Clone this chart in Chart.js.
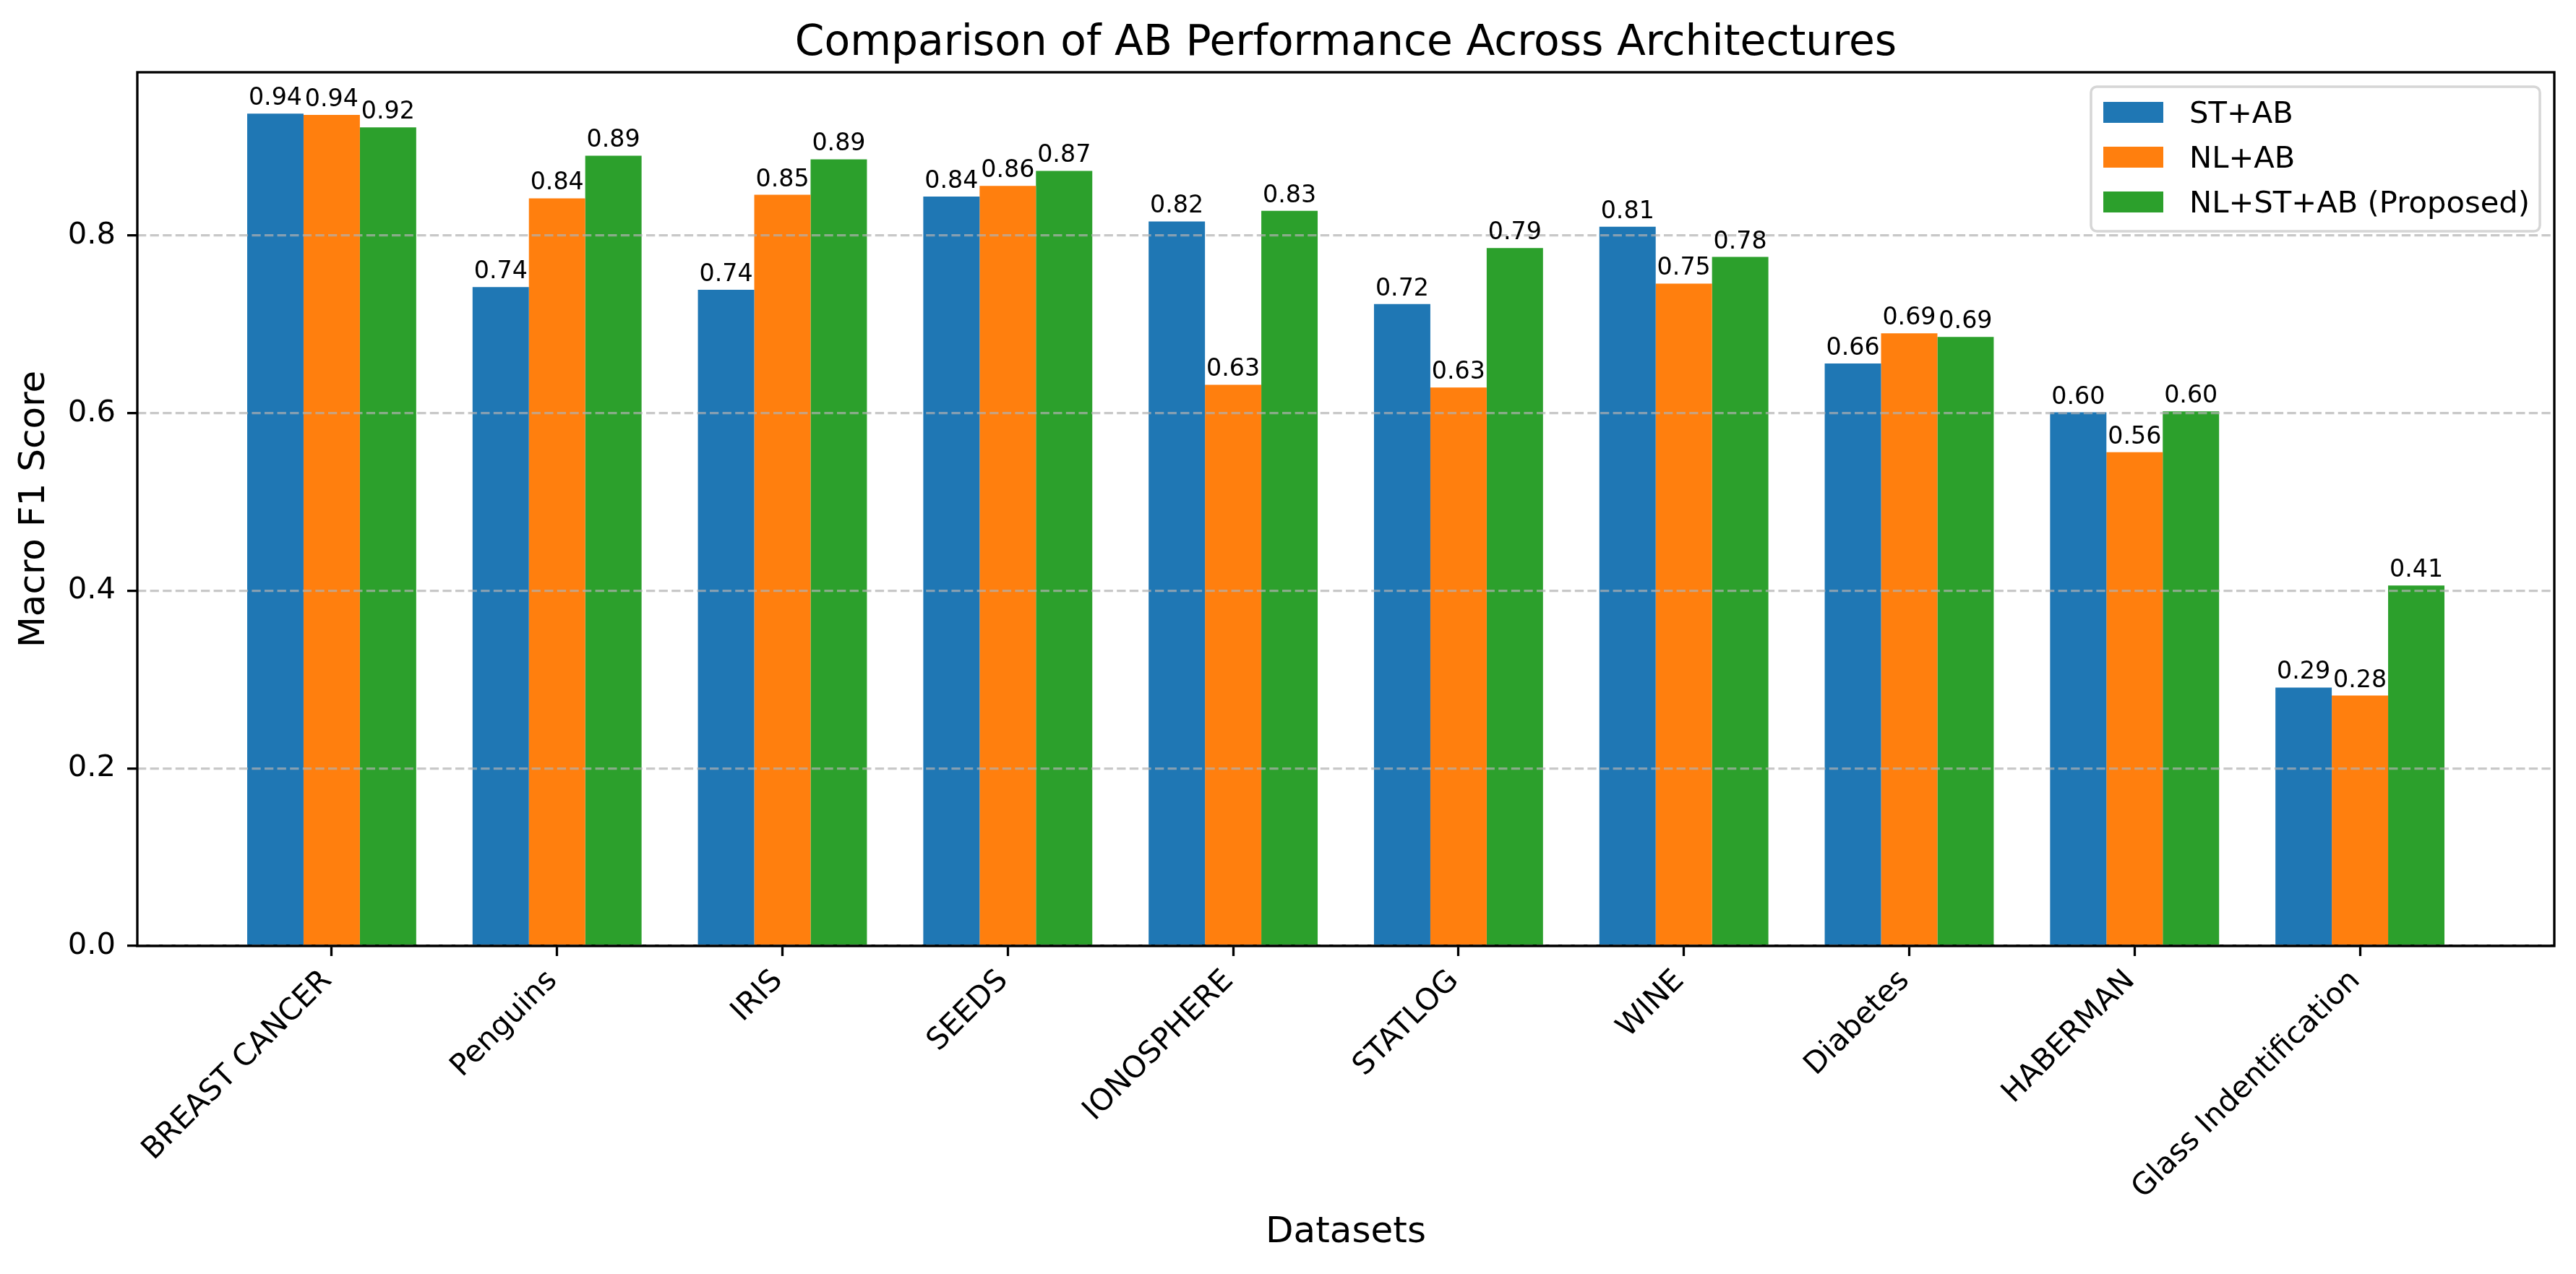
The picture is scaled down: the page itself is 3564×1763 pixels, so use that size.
<!DOCTYPE html>
<html>
<head>
<meta charset="utf-8">
<script src="https://cdn.jsdelivr.net/npm/chart.js@4/dist/chart.umd.min.js"></script>
<style>
  body { margin: 0; background: #fff; }
  #wrap { width: 3564px; height: 1763px; }
</style>
</head>
<body>
<div id="wrap"><canvas id="myChart" width="3564" height="1763"></canvas></div>
<script>
const datasetNames = ['BREAST CANCER', 'Penguins', 'IRIS', 'SEEDS', 'IONOSPHERE', 'STATLOG', 'WINE', 'Diabetes', 'HABERMAN', 'Glass Indentification'];
const seriesNames = ['ST+AB', 'NL+AB', 'NL+ST+AB (Proposed)'];
const stAb = [0.9375, 0.742, 0.739, 0.844, 0.816, 0.723, 0.810, 0.656, 0.601, 0.291];
const nlAb = [0.936, 0.842, 0.846, 0.856, 0.632, 0.629, 0.746, 0.690, 0.556, 0.282];
const nlStAb = [0.922, 0.890, 0.886, 0.873, 0.828, 0.786, 0.776, 0.686, 0.602, 0.406];
const yTicks = [0, 0.2, 0.4, 0.6, 0.8];
const colors = ['#1f77b4', '#ff7f0e', '#2ca02c'];

const FONT = '"DejaVu Sans", sans-serif';

toPoints = (values) => values.map((v, i) => ({ x: i, y: v }));

const barLabels = {
    id: 'barLabels',
    afterDraw(chart) {
        const ctx = chart.ctx;
        ctx.save();
        ctx.font = '33.3px ' + FONT;
        ctx.fillStyle = '#000';
        ctx.textAlign = 'center';
        ctx.textBaseline = 'alphabetic';
        chart.data.datasets.forEach((ds, di) => {
            chart.getDatasetMeta(di).data.forEach((bar, i) => {
                ctx.fillText(ds.data[i].y.toFixed(2), bar.x, bar.y - 12);
            });
        });
        ctx.restore();
    }
};

const frameTitleLegend = {
    id: 'frameTitleLegend',
    afterDraw(chart) {
        const ctx = chart.ctx;
        const a = chart.chartArea;
        ctx.save();
        // axes frame
        ctx.strokeStyle = '#000';
        ctx.lineWidth = 3.3;
        ctx.strokeRect(a.left, a.top, a.right - a.left, a.bottom - a.top);
        // title
        ctx.fillStyle = '#000';
        ctx.font = '58.3px ' + FONT;
        ctx.textAlign = 'center';
        ctx.textBaseline = 'alphabetic';
        ctx.fillText('Comparison of AB Performance Across Architectures', (a.left + a.right) / 2, 76);
        // legend
        const bx = a.right - 641, by = a.top + 20, bw = 621, bh = 200;
        ctx.beginPath();
        ctx.roundRect(bx, by, bw, bh, 8);
        ctx.fillStyle = 'rgba(255,255,255,0.8)';
        ctx.fill();
        ctx.strokeStyle = 'rgba(204,204,204,0.8)';
        ctx.lineWidth = 3.5;
        ctx.stroke();
        ctx.font = '41.7px ' + FONT;
        ctx.textAlign = 'left';
        chart.data.datasets.forEach((ds, i) => {
            const base = by + 50 + i * 62;
            ctx.fillStyle = ds.backgroundColor;
            ctx.fillRect(bx + 17, base - 29, 83, 29);
            ctx.fillStyle = '#000';
            ctx.fillText(ds.label, bx + 136, base);
        });
        ctx.restore();
    }
};

const ctx = document.getElementById('myChart').getContext('2d');
new Chart(ctx, {
    type: 'bar',
    data: {
        datasets: [
            { label: seriesNames[0], data: toPoints(stAb), backgroundColor: colors[0] },
            { label: seriesNames[1], data: toPoints(nlAb), backgroundColor: colors[1] },
            { label: seriesNames[2], data: toPoints(nlStAb), backgroundColor: colors[2] }
        ]
    },
    options: {
        responsive: false,
        animation: false,
        devicePixelRatio: 1,
        categoryPercentage: 0.75,
        barPercentage: 1.0,
        layout: { padding: { top: 100, right: 30, left: 0, bottom: 0 } },
        plugins: {
            legend: { display: false },
            title: { display: false },
            tooltip: { enabled: false }
        },
        scales: {
            x: {
                type: 'linear',
                offset: false,
                min: -0.8625,
                max: 9.8625,
                afterBuildTicks: (scale) => {
                    scale.ticks = datasetNames.map((_, i) => ({ value: i }));
                },
                afterFit: (scale) => { scale.height = 454; },
                grid: {
                    offset: false,
                    drawOnChartArea: false,
                    drawTicks: true,
                    tickLength: 14,
                    tickColor: '#000',
                    tickWidth: 3.3
                },
                border: { display: true, color: '#000', width: 3.3 },
                ticks: {
                    autoSkip: false,
                    minRotation: 45,
                    maxRotation: 45,
                    padding: 10,
                    labelOffset: -6,
                    color: '#000',
                    font: { family: FONT, size: 41.7 },
                    callback: (v) => datasetNames[v]
                },
                title: {
                    display: true,
                    text: 'Datasets',
                    color: '#000',
                    font: { family: FONT, size: 50, lineHeight: 1.2 },
                    padding: { top: 0, bottom: 27 }
                }
            },
            y: {
                min: 0,
                max: 0.984,
                afterBuildTicks: (scale) => {
                    scale.ticks = yTicks.map(v => ({ value: v }));
                },
                afterFit: (scale) => { scale.width = 190; },
                grid: {
                    z: 1,
                    color: 'rgba(176,176,176,0.7)',
                    lineWidth: 3.3,
                    drawTicks: true,
                    tickLength: 14,
                    tickColor: '#000',
                    tickWidth: 3.3,
                    tickBorderDash: []
                },
                border: { display: false, dash: [12.3, 5.3] },
                ticks: {
                    padding: 16,
                    color: '#000',
                    font: { family: FONT, size: 41.7 },
                    callback: (v) => Number(v).toFixed(1)
                },
                title: {
                    display: true,
                    text: 'Macro F1 Score',
                    color: '#000',
                    font: { family: FONT, size: 50, lineHeight: 1.2 },
                    padding: { top: 18, bottom: 0 }
                }
            }
        }
    },
    plugins: [barLabels, frameTitleLegend]
});
</script>
</body>
</html>
